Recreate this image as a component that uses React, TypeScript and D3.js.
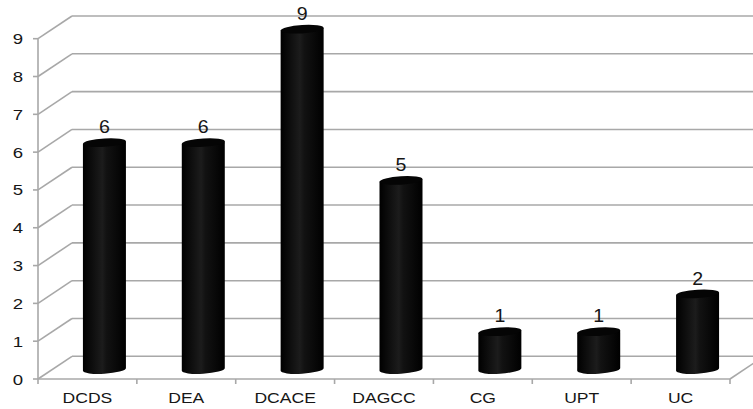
import React from "react";
import * as d3 from "d3";

const categories = ["DCDS", "DEA", "DCACE", "DAGCC", "CG", "UPT", "UC"];
const counts = [6, 6, 9, 5, 1, 1, 2];
const yTicks = [0, 1, 2, 3, 4, 5, 6, 7, 8, 9];

const W = 753;
const H = 409;
// front plane of the plot
const left = 38;
const right = 730;
const bottom = 379;
const top = 38.7;
// depth offset of the back wall
const depthX = 34;
const depthY = -22.7;

const gridColor = "#a8a8a8";
const textColor = "#161616";
const font = "'Liberation Sans', Arial, sans-serif";

export default function App() {
  const x = d3.scaleBand<string>().domain(categories).range([left, right]);
  const y = d3.scaleLinear().domain([0, 9]).range([bottom, top]);

  const rx = 21.5;
  const ry = 4.2;
  const midX = depthX / 2;
  const midY = -9.5;

  return (
    <svg
      width={W}
      height={H}
      style={{ position: "absolute", left: 0, top: 0, background: "#fff" }}
    >
      <defs>
        <linearGradient id="cyl" x1="0" x2="1" y1="0" y2="0">
          <stop offset="0" stopColor="#000" />
          <stop offset="0.45" stopColor="#1c1c1c" />
          <stop offset="0.55" stopColor="#121212" />
          <stop offset="1" stopColor="#000" />
        </linearGradient>
      </defs>

      {/* back wall gridlines and the slanted side edges */}
      {yTicks.map((t) => (
        <g key={t} stroke={gridColor} strokeWidth={1.6} fill="none">
          <line x1={left} y1={y(t)} x2={left + depthX} y2={y(t) + depthY} />
          <line x1={left + depthX} y1={y(t) + depthY} x2={W + 20} y2={y(t) + depthY} />
          <line x1={left - 5} y1={y(t)} x2={left} y2={y(t)} />
        </g>
      ))}

      {/* front axis and floor edge */}
      <g stroke={gridColor} strokeWidth={1.6} fill="none">
        <line x1={left} y1={y(9)} x2={left} y2={bottom} />
        <line x1={left} y1={bottom} x2={right} y2={bottom} />
        <line x1={right} y1={bottom} x2={right + depthX} y2={bottom + depthY} />
        {categories.map((c) => (
          <line key={c} x1={x(c)!} y1={bottom} x2={x(c)!} y2={bottom + 5} />
        ))}
        <line x1={right} y1={bottom} x2={right} y2={bottom + 5} />
      </g>

      {/* y-axis labels */}
      {yTicks.map((t) => (
        <text
          key={t}
          transform={`translate(23,${y(t) + 5.5}) scale(1.2,1)`}
          textAnchor="end"
          fontFamily={font}
          fontSize={15.5}
          fill={textColor}
        >
          {t}
        </text>
      ))}

      {/* category labels */}
      {categories.map((c) => (
        <text
          key={c}
          transform={`translate(${x(c)! + x.bandwidth() / 2},403) scale(1.17,1)`}
          textAnchor="middle"
          fontFamily={font}
          fontSize={15}
          fill={textColor}
        >
          {c}
        </text>
      ))}

      {/* cylinders */}
      {categories.map((c, i) => {
        const cx = x(c)! + x.bandwidth() / 2 + midX;
        const yb = y(0) + midY;
        const yt = y(counts[i]) + midY;
        return (
          <g key={c}>
            <g transform={`translate(${cx},0) skewY(-3.5) translate(${-cx},0)`}>
              <path
                d={`M${cx - rx},${yt} L${cx - rx},${yb} A${rx},${ry} 0 0 0 ${cx + rx},${yb} L${cx + rx},${yt} Z`}
                fill="url(#cyl)"
              />
              <ellipse cx={cx} cy={yt} rx={rx} ry={ry} fill="#050505" />
            </g>
            <text
              transform={`translate(${cx},${yt - ry - 5}) scale(1.12,1)`}
              textAnchor="middle"
              fontFamily={font}
              fontSize={17.5}
              fill={textColor}
            >
              {counts[i]}
            </text>
          </g>
        );
      })}
    </svg>
  );
}
